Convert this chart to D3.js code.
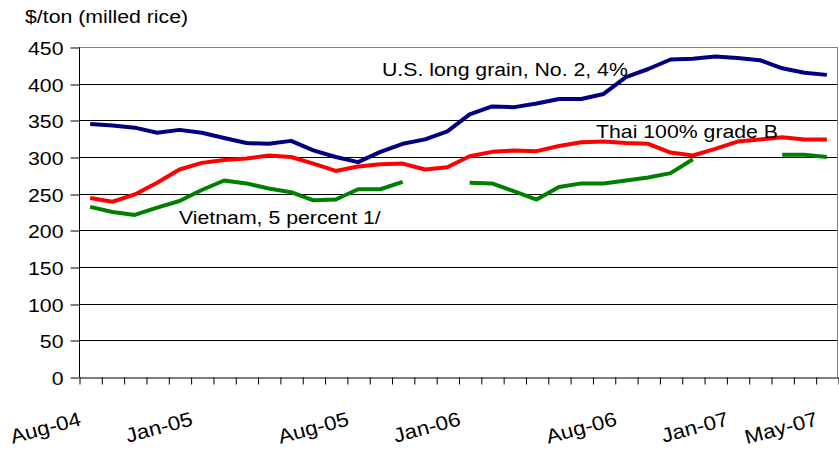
<!DOCTYPE html>
<html>
<head>
<meta charset="utf-8">
<script src="https://cdn.jsdelivr.net/npm/d3@7"></script>
<style>
  html, body { margin: 0; padding: 0; background: #fff; }
  svg { display: block; font-family: "Liberation Sans", Arial, sans-serif; }
</style>
</head>
<body>
<svg id="chart" width="839" height="450"></svg>
<script>
// Monthly export prices, $/ton milled rice, Aug 2004 - May 2007
const months = [
  "Aug-04","Sep-04","Oct-04","Nov-04","Dec-04",
  "Jan-05","Feb-05","Mar-05","Apr-05","May-05","Jun-05","Jul-05","Aug-05","Sep-05","Oct-05","Nov-05","Dec-05",
  "Jan-06","Feb-06","Mar-06","Apr-06","May-06","Jun-06","Jul-06","Aug-06","Sep-06","Oct-06","Nov-06","Dec-06",
  "Jan-07","Feb-07","Mar-07","Apr-07","May-07"
];
const tickLabels = ["Aug-04","Jan-05","Aug-05","Jan-06","Aug-06","Jan-07","May-07"];
const yTicks = [0, 50, 100, 150, 200, 250, 300, 350, 400, 450];

const usLongGrain = [345, 343, 340, 333, 337, 333, 326, 319, 318, 322, 309, 300, 293, 307, 318, 324, 335,
  358, 369, 368, 373, 379, 379, 386, 409, 420, 433, 434, 437, 435, 432, 421, 415, 412];
const thai100B = [244, 239, 249, 265, 283, 292, 296, 298, 302, 300, 291, 281, 287, 290, 291, 283, 286,
  301, 307, 309, 308, 315, 320, 321, 319, 318, 306, 302, 311, 321, 324, 327, 324, 324];
const vietnam5 = [232, 225, 221, 231, 240, 255, 268, 264, 257, 252, 241, 242, 256, 256, 266, null, null,
  265, 264, 253, 242, 259, 264, 264, 268, 272, 278, 297, null, null, null, 303, 303, 300];

const series = [
  { name: "U.S. long grain, No. 2, 4%", values: usLongGrain, color: "#000080", lx: 382, ly: 76 },
  { name: "Thai 100% grade B", values: thai100B, color: "#FF0000", lx: 596, ly: 138 },
  { name: "Vietnam, 5 percent 1/", values: vietnam5, color: "#008000", lx: 179, ly: 224 }
];

const svg = d3.select("#chart");
const plotLeft = 79, plotRight = 838, plotTop = 47, plotBottom = 377;
const fontSize = 19, stretch = 1.12;

const x = d3.scaleBand().domain(months).range([plotLeft, plotRight]).paddingInner(0).paddingOuter(0);
const xEdge = d3.scaleLinear().domain([0, months.length]).range([plotLeft, plotRight]);
const y = d3.scaleLinear().domain([0, 450]).range([plotBottom, plotTop]);
const cx = m => x(m) + x.bandwidth() / 2;

// horizontal gridlines
svg.append("g")
  .selectAll("line")
  .data(yTicks.filter(v => v > 0))
  .join("line")
  .attr("x1", plotLeft).attr("x2", plotRight)
  .attr("y1", d => Math.round(y(d)) + 0.5).attr("y2", d => Math.round(y(d)) + 0.5)
  .attr("stroke", d => d === 450 ? "#808080" : "#000")
  .attr("stroke-width", 1);

// right border of plot area
svg.append("line")
  .attr("x1", plotRight - 0.5).attr("x2", plotRight - 0.5)
  .attr("y1", Math.round(y(450)) + 0.5).attr("y2", plotBottom)
  .attr("stroke", "#808080");

// y axis
const yAxis = svg.append("g")
  .attr("transform", `translate(${plotLeft + 0.5},0.5)`)
  .call(d3.axisLeft(y).tickValues(yTicks).tickSize(9).tickSizeOuter(0).tickPadding(0).tickFormat(d3.format("d")));
yAxis.select(".domain").attr("stroke", "#000").attr("d", `M0,${Math.round(y(450))}V${Math.round(y(0))}`);
yAxis.selectAll(".tick line").attr("stroke", "#000")
  .attr("transform", d => `translate(0,${Math.round(y(d)) - y(d)})`);
yAxis.selectAll(".tick text")
  .attr("x", null).attr("dy", null)
  .attr("text-anchor", "end")
  .attr("font-size", fontSize)
  .attr("font-family", "Liberation Sans, Arial, sans-serif")
  .attr("fill", "#000")
  .attr("transform", `translate(-16,7) scale(${stretch},1)`);

// x axis with month tick marks at category edges
const xAxis = svg.append("g")
  .attr("transform", `translate(0.5,${plotBottom + 0.5})`)
  .call(d3.axisBottom(xEdge).tickValues(d3.range(months.length + 1)).tickSize(7).tickSizeOuter(0).tickFormat(""));
xAxis.select(".domain").attr("stroke", "#000");
xAxis.selectAll(".tick line").attr("stroke", "#000");

// rotated month labels
svg.append("g")
  .selectAll("text")
  .data(tickLabels)
  .join("text")
  .attr("transform", d => `translate(${cx(d) - 8},425) rotate(-15) scale(${stretch},1)`)
  .attr("text-anchor", "end")
  .attr("font-size", 20)
  .attr("fill", "#000")
  .text(d => d);

// price lines
const line = d3.line()
  .defined(d => d.v != null)
  .x(d => cx(d.m))
  .y(d => y(d.v));

svg.append("g")
  .selectAll("path")
  .data(series)
  .join("path")
  .attr("fill", "none")
  .attr("stroke", d => d.color)
  .attr("stroke-width", 4)
  .attr("stroke-linejoin", "round")
  .attr("d", s => line(s.values.map((v, i) => ({ m: months[i], v }))));

// series labels
svg.append("g")
  .selectAll("text")
  .data(series)
  .join("text")
  .attr("transform", d => `translate(${d.lx},${d.ly}) scale(${stretch},1)`)
  .attr("font-size", fontSize)
  .attr("fill", "#000")
  .text(d => d.name);

// unit title
svg.append("text")
  .attr("transform", `translate(25,23) scale(${stretch},1)`)
  .attr("font-size", fontSize)
  .attr("fill", "#000")
  .text("$/ton (milled rice)");
</script>
</body>
</html>
